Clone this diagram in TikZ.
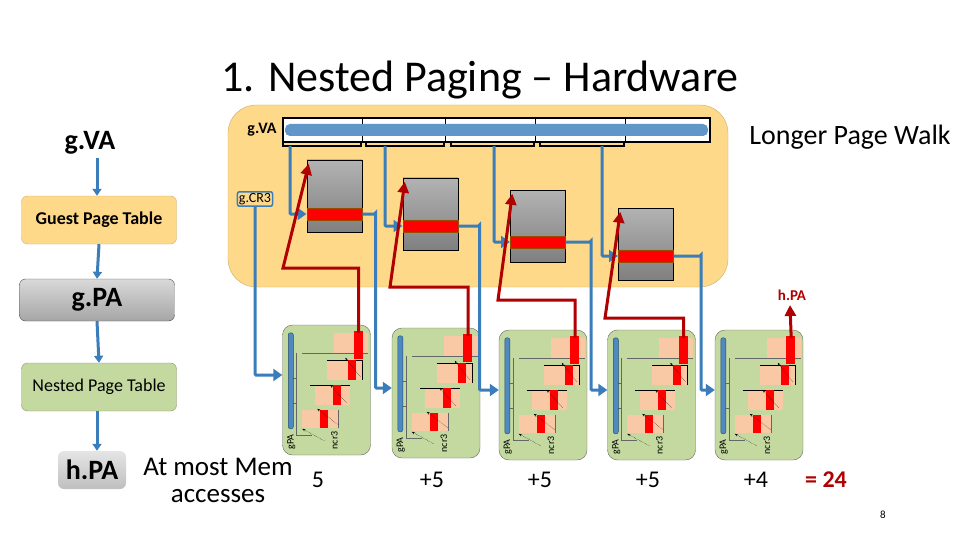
\documentclass[tikz,border=0pt]{standalone}
\usepackage{fontspec}
\setmainfont{Carlito}
\usetikzlibrary{calc,arrows.meta}
\definecolor{bluel}{HTML}{3A7DBA}
\definecolor{redl}{HTML}{B00000}
\definecolor{orreg}{HTML}{FFD98A}
\definecolor{grn}{HTML}{C4D9A0}
\definecolor{peach}{HTML}{F8C9A4}
\tikzset{
  fs/.style={font=\fontsize{#1}{#1}\selectfont},
  fsb/.style={font=\fontsize{#1}{#1}\selectfont\bfseries},
  flow/.style={draw=bluel!80, line width=3pt, -{Triangle[length=7pt,width=9pt]}, bluel},
  lbox/.style={rounded corners=6pt, minimum width=155pt, minimum height=48pt, fs=18},
  tbl/.style={draw=black, top color=gray!60, bottom color=gray, minimum width=55pt, minimum height=72pt, inner sep=0pt},
  rstrip/.style={fill=red, draw=orange!60!black, line width=1pt, minimum width=55pt, minimum height=12pt, inner sep=0pt},
  gbox/.style={draw=black!60, fill=grn, rounded corners=10pt, minimum width=88pt, minimum height=130pt, inner sep=0pt},
  bw/.style={draw=bluel, line width=3pt, rounded corners=1pt},
  bwa/.style={bw, -{Triangle[length=9pt,width=12pt]}},
  rw/.style={draw=redl, line width=3pt},
  rwa/.style={rw, -{Triangle[length=11pt,width=11pt]}},
}
\newcommand{\gcontent}[1]{%
  \begin{scope}[shift={(#1.north west)}]
    \fill[peach] (52,8) rectangle (86,28);
    \draw[black!60] (20,28) -- (86,28);
    \fill[peach] (45,35) rectangle (80,55); \draw (45,35) -- (80,35) (80,35) -- (80,55);
    \fill[peach] (33,60) rectangle (68,80); \draw (28,60) -- (68,60);
    \fill[peach] (20,85) rectangle (56,103); \draw[black!60] (56,85) -- (56,103);
    \fill[red] (66,35) rectangle (74,55);
    \fill[red] (51,60) rectangle (59,80);
    \fill[red] (38,85) rectangle (46,103);
    \draw[black!60] (14,28) -- (14,110) -- (30,110) (14,53) -- (10,53) (14,78) -- (10,78);
    \draw[densely dotted,-{Stealth[length=3pt]}] (42,116) -- (20,104);
    \draw[densely dotted,-{Stealth[length=3pt]}] (56,100) -- (35,84);
    \draw[densely dotted,-{Stealth[length=3pt]}] (64,78) -- (48,60);
    \draw[densely dotted,-{Stealth[length=3pt]}] (78,52) -- (63,33);
    \draw[draw=bluel!60!black, fill=bluel!90, rounded corners=2pt] (6,8) rectangle (11,104);
    \node[rotate=90, fs=10, anchor=west] at (9,128) {gPA};
    \node[rotate=90, fs=10, anchor=west] at (52,128) {ncr3};
  \end{scope}}
\begin{document}
\begin{tikzpicture}[x=1pt,y=-1pt]
\useasboundingbox (0,0) rectangle (960,540);
% title
\node[fs=44] (title) at (480,80) {1. Nested Paging -- Hardware};
% left column
\node[fsb=28] (gva) at (90,143) {g.VA};
\node[lbox, fill=orreg, draw=orreg!80!black] (gpt) at (99,220) {\textbf{Guest Page Table}};
\node[lbox, draw=black!70, top color=gray!30, bottom color=gray!70, minimum height=42pt, fsb=28] (gpa) at (97,300) {g.PA};
\node[lbox, fill=grn, draw=grn!70!black] (npt) at (99,387) {Nested Page Table};
\node[rounded corners=6pt, top color=gray!20, bottom color=gray!50, minimum width=68pt, minimum height=38pt, fsb=28] (hpa) at (92,470) {h.PA};
\draw[flow] (gva.south) ++(7,0) -- ($(gpt.north)+(-2,0)$);
\draw[flow] (gpt.south) -- (gpa.north);
\draw[flow] (gpa.south) -- (npt.north);
\draw[flow] ($(npt.south)+(-2,0)$) -- ($(hpa.north)+(5,0)$);
% orange region
\node[fill=orreg, draw=orreg!80!black, rounded corners=28pt, minimum width=500pt, minimum height=182pt] (reg) at (478,196) {};
\node[fsb=16] (gval) at (262,130) {g.VA};
\node[draw=black, line width=1.5pt, minimum width=427pt, minimum height=24pt, fill=white, inner sep=0pt] (bar) at (496.5,130) {};
\foreach \x in {362,445,535,625} \draw[line width=1pt] (\x,118) -- (\x,142);
\fill[bluel!80, rounded corners=5pt] (285,124) rectangle (708,136);
\foreach \a/\b/\c [count=\i] in {283/361/290,366/444/385,451/534/494,540/624/602} {
  \draw[line width=2pt] (\a,141) -- (\a,146) -- (\b,146) -- (\b,141);
  \coordinate (br\i) at (\c,146);
}
\node[fs=28] (lpw) at (850,137) {Longer Page Walk};
\node[draw=bluel, line width=1.5pt, rounded corners=2pt, inner sep=1.5pt, fs=14, fill=orreg] (cr3) at (255,199) {g.CR3};
% tables
\foreach \x/\y [count=\i] in {334.5/196,430.5/214,538/226,646/244} {
  \node[tbl] (t\i) at (\x,\y) {};
}
\node[rstrip] (r1) at (334.5,214) {};
\node[rstrip] (r2) at (430.5,226) {};
\node[rstrip] (r3) at (538,242) {};
\node[rstrip] (r4) at (646,256) {};
% green boxes
\foreach \x/\y [count=\i] in {326.5/390,436/393,543/395,651.5/395,759/395} {
  \node[gbox] (g\i) at (\x,\y) {};
  \gcontent{g\i}
  \coordinate (rt\i) at ($(g\i.north east)+(-12,2)$);
  \fill[red] ($(g\i.north east)+(-17,6)$) rectangle ($(g\i.north east)+(-8,34)$);
}
% blue walk
\foreach \i in {1,...,4} \draw[bwa] (br\i) |- (r\i.west);
\draw[bwa] (cr3.south) |- ($(g1.west)+(0,-15)$);
\foreach \i/\j/\d in {1/2/13,2/3/21,3/4/25,4/5/27} {
  \draw[bwa] (r\i.east) -| ++(\d,0) |- ($(g\j.west)+(0,-5)$);
}
% red walk
\foreach \i/\h/\l in {1/268/283,2/287/390,3/300/498,4/318/605} {
  \draw[rwa] ($(rt\i)+(0,6)$) |- (\l,\h) -- ($(t\i.north west)+(2,4)$);
}
\draw[rwa] ($(rt5)+(0,6)$) -- (790,305);
\node[fsb=15, text=redl] (hpal) at (792,295) {h.PA};
% bottom counts
\node[fs=27, align=center] (acc) at (218,480) {At most Mem\\accesses};
\node[fs=24] (c1) at (318,480) {5};
\node[fs=24] (c2) at (432,480) {+5};
\node[fs=24] (c3) at (540,480) {+5};
\node[fs=24] (c4) at (648,480) {+5};
\node[fs=24] (c5) at (756,480) {+4};
\node[fsb=24, text=redl] (tot) at (826,480) {= 24};
\node[fs=11] (pg) at (883,515) {8};
\end{tikzpicture}
\end{document}
